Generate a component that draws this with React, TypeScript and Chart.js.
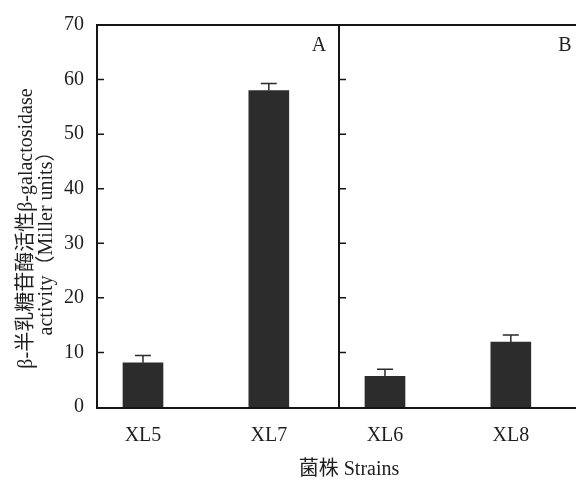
import React, { useEffect, useRef } from "react";
import { Chart, registerables } from "chart.js";

Chart.register(...registerables);

// ---- data ----
const strains = ["XL5", "XL7", "XL6", "XL8"];
const strainPositions = [0.19, 0.71, 1.19, 1.71];
const activity = [8.1, 58.0, 5.6, 11.9];
const activityError = [1.35, 1.3, 1.3, 1.3];
const yTickValues = [0, 10, 20, 30, 40, 50, 60, 70];
const panelLabels = ["A", "B"];
const panelLabelX = [0.917, 1.934];
const panelLabelY = 66.2;
const panelDivider = 1;

const yTitle = ["β-半乳糖苷酶活性β-galactosidase     ", "activity（Miller units）         "];
const xTitle = "    菌株 Strains";

const FAMILY = "'Liberation Serif', 'Noto Sans CJK SC', serif";
const TEXT = "#1e1e1e";

const framePlugin = {
  id: "framePlugin",
  afterDatasetsDraw(chart: any) {
    const { ctx, chartArea, scales } = chart;
    const x = scales.x;
    const y = scales.y;
    ctx.save();

    // error bars
    ctx.strokeStyle = "#2a2a2a";
    ctx.lineWidth = 1.5;
    activity.forEach((v, i) => {
      const px = x.getPixelForValue(strainPositions[i]);
      const base = y.getPixelForValue(v);
      const top = y.getPixelForValue(v + activityError[i]);
      ctx.beginPath();
      ctx.moveTo(px, base);
      ctx.lineTo(px, top);
      ctx.moveTo(px - 8, top);
      ctx.lineTo(px + 8, top);
      ctx.stroke();
    });

    // frame
    const L = chartArea.left;
    const R = chartArea.right;
    const T = chartArea.top;
    const B = chartArea.bottom;
    const D = x.getPixelForValue(panelDivider);
    ctx.strokeStyle = "#151515";
    ctx.lineWidth = 2;
    ctx.beginPath();
    ctx.moveTo(L, T);
    ctx.lineTo(R, T);
    ctx.moveTo(L, T - 1);
    ctx.lineTo(L, B + 1);
    ctx.lineTo(R, B + 1);
    ctx.moveTo(D, T);
    ctx.lineTo(D, B);
    ctx.stroke();

    // inward ticks
    ctx.lineWidth = 1.5;
    ctx.beginPath();
    yTickValues.forEach((v) => {
      if (v === 0 || v === 70) return;
      const py = y.getPixelForValue(v);
      ctx.moveTo(L, py);
      ctx.lineTo(L + 7, py);
      ctx.moveTo(D, py);
      ctx.lineTo(D + 7, py);
    });
    ctx.stroke();

    // panel labels
    ctx.fillStyle = TEXT;
    ctx.font = `20px ${FAMILY}`;
    ctx.textAlign = "center";
    ctx.textBaseline = "middle";
    panelLabels.forEach((lab, i) => {
      ctx.fillText(lab, x.getPixelForValue(panelLabelX[i]), y.getPixelForValue(panelLabelY));
    });
    ctx.restore();
  },
};

export default function App() {
  const ref = useRef<HTMLCanvasElement | null>(null);

  useEffect(() => {
    if (!ref.current) return;
    const font = { family: FAMILY, size: 20 };
    const chart = new Chart(ref.current, {
      type: "bar",
      data: {
        datasets: [
          {
            data: strains.map((s, i) => ({ x: strainPositions[i], y: activity[i] })),
            backgroundColor: "#2c2c2c",
            borderWidth: 0,
            barThickness: 40,
          } as any,
        ],
      },
      options: {
        animation: false,
        responsive: false,
        layout: { padding: { top: 22, right: 19, left: 0, bottom: 0 } },
        plugins: { legend: { display: false }, tooltip: { enabled: false } },
        scales: {
          x: {
            type: "linear",
            min: 0,
            max: 2,
            offset: false,
            grid: { display: false, drawTicks: false },
            border: { display: false },
            afterBuildTicks: (s: any) => {
              s.ticks = strainPositions.map((v) => ({ value: v }));
            },
            afterFit: (s: any) => {
              s.height = 73;
            },
            ticks: {
              callback: (_v: any, i: number) => strains[i],
              padding: 17,
              font,
              color: TEXT,
              autoSkip: false,
              maxRotation: 0,
            },
            title: {
              display: true,
              text: xTitle,
              font: { ...font, lineHeight: 1 },
              color: TEXT,
              padding: { top: 0, bottom: 0 },
            },
          },
          y: {
            min: 0,
            max: 70,
            grid: { display: false, drawTicks: false },
            border: { display: false },
            afterBuildTicks: (s: any) => {
              s.ticks = yTickValues.map((v) => ({ value: v }));
            },
            afterFit: (s: any) => {
              s.width = 97;
            },
            ticks: { padding: 13, font, color: TEXT },
            title: {
              display: true,
              text: yTitle,
              font: { ...font, lineHeight: 1 },
              color: TEXT,
              padding: { top: 17, bottom: 0 },
            },
          },
        },
      } as any,
      plugins: [framePlugin],
    });
    return () => chart.destroy();
  }, []);

  return (
    <div
      style={{
        position: "absolute",
        left: 0,
        top: 0,
        width: 576,
        height: 480,
        overflow: "hidden",
        background: "#fff",
      }}
    >
      <canvas ref={ref} width={600} height={480} style={{ display: "block" }} />
    </div>
  );
}
